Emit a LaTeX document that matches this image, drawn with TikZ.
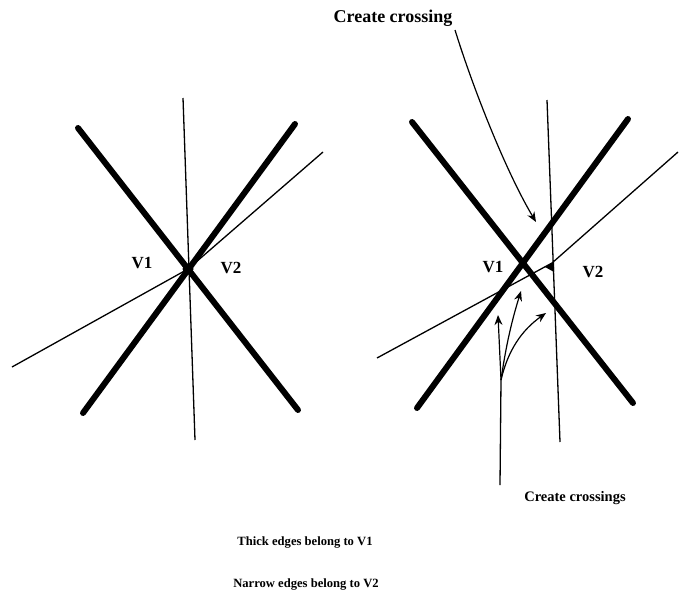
\documentclass[tikz,border=0pt]{standalone}
\usepackage{fontspec}
\setmainfont{Liberation Serif}
\usetikzlibrary{arrows.meta}
\tikzset{
  thickedge/.style={line width=6pt, line cap=round},
  thinedge/.style={line width=1.3pt},
  lbl/.style={inner sep=0pt, anchor=base, font=\bfseries},
  arr/.style={line width=1.2pt, -{Stealth[length=10pt,width=8pt]}},
  vdot/.style={circle, fill=black, inner sep=0pt, minimum size=11pt}
}
\begin{document}
\begin{tikzpicture}[x=1pt,y=-1pt]
\useasboundingbox (0,0) rectangle (679,597);
% ---------- left figure ----------
\coordinate (L1a) at (78,128);  \coordinate (L1b) at (298,410);
\coordinate (L2a) at (295,124); \coordinate (L2b) at (83,413);
\coordinate (Lva) at (183,98);  \coordinate (Lvb) at (195,440);
\coordinate (Lta) at (12,367);  \coordinate (Ltb) at (323,152);
\node[vdot] (Ldot) at (188,269) {};
\draw[thickedge] (L1a) -- (L1b);
\draw[thickedge] (L2a) -- (L2b);
\draw[thinedge] (Lva) -- (Lvb);
\draw[thinedge] (Lta) -- (Ldot.center) -- (Ltb);
\node[lbl, font=\bfseries\fontsize{17}{17}\selectfont] (LV1) at (142,268) {V1};
\node[lbl, font=\bfseries\fontsize{17}{17}\selectfont] (LV2) at (231,273) {V2};
% ---------- right figure ----------
\coordinate (R1a) at (412,122); \coordinate (R1b) at (633,403);
\coordinate (R2a) at (628,119); \coordinate (R2b) at (417,408);
\coordinate (Rva) at (547,100); \coordinate (Rvb) at (560,442);
\coordinate (Rta) at (377,358); \coordinate (Rtm) at (552,263); \coordinate (Rtb) at (678,152);
\draw[thickedge] (R1a) -- (R1b);
\draw[thickedge] (R2a) -- (R2b);
\draw[thinedge] (Rva) -- (Rvb);
\draw[thinedge] (Rta) -- (Rtm) -- (Rtb);
\fill (545,267) -- (554,262) -- (554,272) -- cycle;
\node[lbl, font=\bfseries\fontsize{17}{17}\selectfont] (RV1) at (493,272) {V1};
\node[lbl, font=\bfseries\fontsize{17}{17}\selectfont] (RV2) at (593,277) {V2};
% arrows
\node[lbl, font=\bfseries\fontsize{18}{18}\selectfont] (top) at (393,22) {Create crossing};
\coordinate (topTip) at (536,222);
\draw[arr] (455,30) .. controls (472,85) and (505,170) .. (topTip);
\node[lbl, font=\bfseries\fontsize{14.5}{14.5}\selectfont] (bot) at (575,501) {Create crossings};
\coordinate (stemEnd) at (500,485);
\coordinate (fan) at (501,380);
\coordinate (tip1) at (498,315);
\coordinate (tip2) at (521,291);
\coordinate (tip3) at (546,313);
\draw[thinedge] (stemEnd) -- (fan);
\draw[arr] (fan) -- (tip1);
\draw[arr] (fan) .. controls (506,345) and (512,320) .. (tip2);
\draw[arr] (fan) .. controls (508,350) and (522,330) .. (tip3);
% ---------- captions ----------
\node[lbl, font=\bfseries\fontsize{12.6}{12.6}\selectfont] (cap1) at (305,545) {Thick edges belong to V1};
\node[lbl, font=\bfseries\fontsize{12.6}{12.6}\selectfont] (cap2) at (306,587) {Narrow edges belong to V2};
\end{tikzpicture}
\end{document}
